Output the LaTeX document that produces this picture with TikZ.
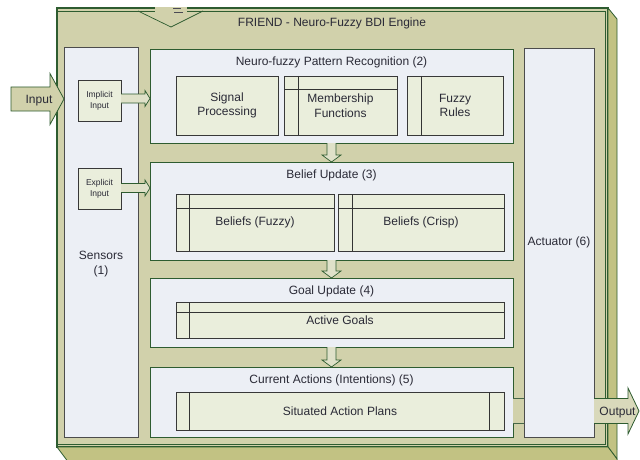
\documentclass[tikz,border=0pt]{standalone}
\usepackage{fontspec}
\setmainfont{Liberation Sans}
\usetikzlibrary{calc}
\definecolor{olivebg}{HTML}{D1D1AB}
\definecolor{oliveside}{HTML}{C2C283}
\definecolor{dkgreen}{HTML}{2E5C30}
\definecolor{panelbg}{HTML}{ECEFF5}
\definecolor{subbg}{HTML}{EAEEDC}
\definecolor{txt}{HTML}{2A2A36}
\definecolor{flowbg}{HTML}{DFE1C9}
\definecolor{outbg}{HTML}{D9D9BB}

\begin{document}
\begin{tikzpicture}[x=1pt,y=-1pt,
  every node/.style={inner sep=0pt,outer sep=0pt},
  frame/.style={anchor=north west,draw=dkgreen,fill=panelbg,line width=0.9pt},
  sidebox/.style={anchor=north west,draw=black!70,fill=panelbg,line width=0.9pt},
  inbox/.style={anchor=north west,draw=black!78,fill=subbg,line width=0.9pt},
  sublines/.style={draw=black!80,line width=0.8pt},
  lbl/.style={text=txt,font=\fontsize{12}{14.5}\selectfont,align=center},
  tinylbl/.style={text=txt,font=\fontsize{8.5}{11}\selectfont,align=center},
  flow/.style={draw=dkgreen,fill=flowbg,line width=0.7pt,line join=miter},
  inflow/.style={draw=dkgreen,fill=olivebg,line width=0.8pt,line join=miter},
  outflow/.style={draw=dkgreen,fill=outbg,line width=0.8pt,line join=miter}
]
\useasboundingbox (0,0) rectangle (640,460);
\clip (0,0) rectangle (640,460);

% engine block: front face with right and bottom depth faces
\node[anchor=north west,draw=dkgreen,fill=olivebg,line width=1.2pt,
      minimum width=551pt,minimum height=439pt] (engine) at (57,8) {};
\filldraw[fill=oliveside,draw=dkgreen,line width=0.8pt]
  (engine.north east) -- ++(9,11) -- ++(0,440) -- (engine.south east) -- cycle;
\filldraw[fill=oliveside,draw=dkgreen,line width=0.8pt]
  (engine.south west) -- (engine.south east) -- ++(9,12) -- ++(0,8)
  -- ($(engine.south west)+(15,20)$) -- cycle;
\draw[dkgreen,line width=0.7pt]
  ([shift={(0,3)}]engine.north west) -- ([shift={(-3,3)}]engine.north east)
  -- ([shift={(-3,-3)}]engine.south east) -- ([shift={(0,-3)}]engine.south west);

% incoming arrow at the top edge
\fill[olivebg] (155,7.3) rectangle (187,12.2);
\draw[dkgreen,line width=0.7pt] (138,11) -- (171,27) -- (203,11);
\draw[txt!85,line width=0.8pt] (173,8.5) -- (181,8.5) (174,12) -- (183,12);

\node[lbl,anchor=base] (title) at (332,26.7) {FRIEND - Neuro-Fuzzy BDI Engine};

% sensors
\node[sidebox,minimum width=74pt,minimum height=390pt] (sens) at (64,47) {};
\node[lbl] (senslbl) at (101,264) {Sensors\\(1)};
\node[inbox,tinylbl,minimum width=43pt,minimum height=41pt] (imp) at (78,80) {Implicit\\Input};
\node[inbox,tinylbl,minimum width=43pt,minimum height=41pt] (exp) at (78,168) {Explicit\\Input};

% actuator
\node[sidebox,lbl,minimum width=70pt,minimum height=389pt] (act) at (524,48) {Actuator (6)};

% (2) pattern recognition
\node[frame,minimum width=363pt,minimum height=94pt] (s2) at (150,49) {};
\node[lbl,anchor=base] (s2t) at ($(s2.north)+(0,16.3)$) {Neuro-fuzzy Pattern Recognition (2)};
\node[inbox,lbl,minimum width=102pt,minimum height=59pt] (sp) at (176,76) {Signal\\Processing};
\node[inbox,lbl,minimum width=113pt,minimum height=59pt] (mf) at (284,76) {Membership\\Functions};
\draw[sublines] ([xshift=14pt]mf.north west) -- ([xshift=14pt]mf.south west);
\draw[sublines] ([yshift=-13pt]mf.north west) -- ([yshift=-13pt]mf.north east);
\node[inbox,lbl,minimum width=96pt,minimum height=59pt] (fr) at (407,76) {Fuzzy\\Rules};
\draw[sublines] ([xshift=14pt]fr.north west) -- ([xshift=14pt]fr.south west);

% (3) belief update
\node[frame,minimum width=363pt,minimum height=98pt] (s3) at (150,162) {};
\node[lbl,anchor=base] (s3t) at ($(s3.north)+(0,16.3)$) {Belief Update (3)};
\node[inbox,lbl,minimum width=158pt,minimum height=57pt] (bf) at (176,194) {Beliefs (Fuzzy)};
\draw[sublines] ([xshift=13pt]bf.north west) -- ([xshift=13pt]bf.south west);
\draw[sublines] ([yshift=-14pt]bf.north west) -- ([yshift=-14pt]bf.north east);
\node[inbox,lbl,minimum width=166pt,minimum height=57pt] (bc) at (338,194) {Beliefs (Crisp)};
\draw[sublines] ([xshift=14pt]bc.north west) -- ([xshift=14pt]bc.south west);
\draw[sublines] ([yshift=-14pt]bc.north west) -- ([yshift=-14pt]bc.north east);

% (4) goal update
\node[frame,minimum width=363pt,minimum height=69pt] (s4) at (150,278) {};
\node[lbl,anchor=base] (s4t) at ($(s4.north)+(0,16.8)$) {Goal Update (4)};
\node[inbox,lbl,minimum width=328pt,minimum height=36pt] (ag) at (176,302) {Active Goals};
\draw[sublines] ([xshift=13pt]ag.north west) -- ([xshift=13pt]ag.south west);
\draw[sublines] ([yshift=-10pt]ag.north west) -- ([yshift=-10pt]ag.north east);

% (5) current actions
\node[frame,minimum width=363pt,minimum height=70pt] (s5) at (150,367) {};
\node[lbl,anchor=base] (s5t) at ($(s5.north)+(0,16.8)$) {Current Actions (Intentions) (5)};
\node[inbox,lbl,minimum width=328pt,minimum height=38pt] (sap) at (176,392) {Situated Action Plans};
\draw[sublines] ([xshift=13pt]sap.north west) -- ([xshift=13pt]sap.south west);
\draw[sublines] ([xshift=-15pt]sap.north east) -- ([xshift=-15pt]sap.south east);

% flows between the stages
\filldraw[flow] ($(s2.south)+(-4.5,0)$) -- ($(s3.north)+(-4.5,-7)$) -- ($(s3.north)+(-9.5,-7)$)
  -- (s3.north) -- ($(s3.north)+(9.5,-7)$) -- ($(s3.north)+(4.5,-7)$) -- ($(s2.south)+(4.5,0)$);
\filldraw[flow] ($(s3.south)+(-4.5,0)$) -- ($(s4.north)+(-4.5,-7)$) -- ($(s4.north)+(-9.5,-7)$)
  -- (s4.north) -- ($(s4.north)+(9.5,-7)$) -- ($(s4.north)+(4.5,-7)$) -- ($(s3.south)+(4.5,0)$);
\filldraw[flow] ($(s4.south)+(-4.5,0)$) -- ($(s5.north)+(-4.5,-7)$) -- ($(s5.north)+(-9.5,-7)$)
  -- (s5.north) -- ($(s5.north)+(9.5,-7)$) -- ($(s5.north)+(4.5,-7)$) -- ($(s4.south)+(4.5,0)$);

% sensor inputs into the stages
\coordinate (ia) at ($(imp.east)+(0,-2)$);
\coordinate (ib) at (s2.west |- ia);
\filldraw[flow] ($(ia)+(0,-4.5)$) -- ($(ib)+(-5,-4.5)$) -- ($(ib)+(-5,-8)$) -- (ib)
  -- ($(ib)+(-5,8)$) -- ($(ib)+(-5,4.5)$) -- ($(ia)+(0,4.5)$);
\coordinate (ea) at ($(exp.east)+(0,-0.5)$);
\coordinate (eb) at (s3.west |- ea);
\filldraw[flow] ($(ea)+(0,-4.5)$) -- ($(eb)+(-5,-4.5)$) -- ($(eb)+(-5,-8)$) -- (eb)
  -- ($(eb)+(-5,8)$) -- ($(eb)+(-5,4.5)$) -- ($(ea)+(0,4.5)$);

% external input
\coordinate (ic) at ($(imp.west)+(-14,-1.5)$);
\filldraw[inflow] (ic) -- ++(-14,-25.5) -- ++(0,13.5) -- ++(-39,0) -- ++(0,24)
  -- ++(39,0) -- ++(0,13.5) -- cycle;
\node[lbl,anchor=base] (inlbl) at (39,103) {Input};

% actions to actuator and output
\coordinate (oc) at ($(s5.east)+(0,9)$);
\coordinate (od) at (act.west |- oc);
\fill[olivebg] ($(oc)+(0,-12.5)$) rectangle ($(od)+(0,12.5)$);
\draw[dkgreen!70!gray,line width=0.8pt] ($(oc)+(0,-12.5)$) -- ($(od)+(0,-12.5)$)
  ($(oc)+(0,12.5)$) -- ($(od)+(0,12.5)$);
\coordinate (oe) at (act.east |- oc);
\filldraw[outflow] ($(oe)+(0,-12.5)$) -- ++(34,0) -- ++(0,-10.5) -- ($(oe)+(45,0)$)
  -- ($(oe)+(34,23)$) -- ++(0,-10.5) -- ($(oe)+(0,12.5)$);
\node[lbl,anchor=base] (outlbl) at (617.5,415) {Output};
\end{tikzpicture}
\end{document}
